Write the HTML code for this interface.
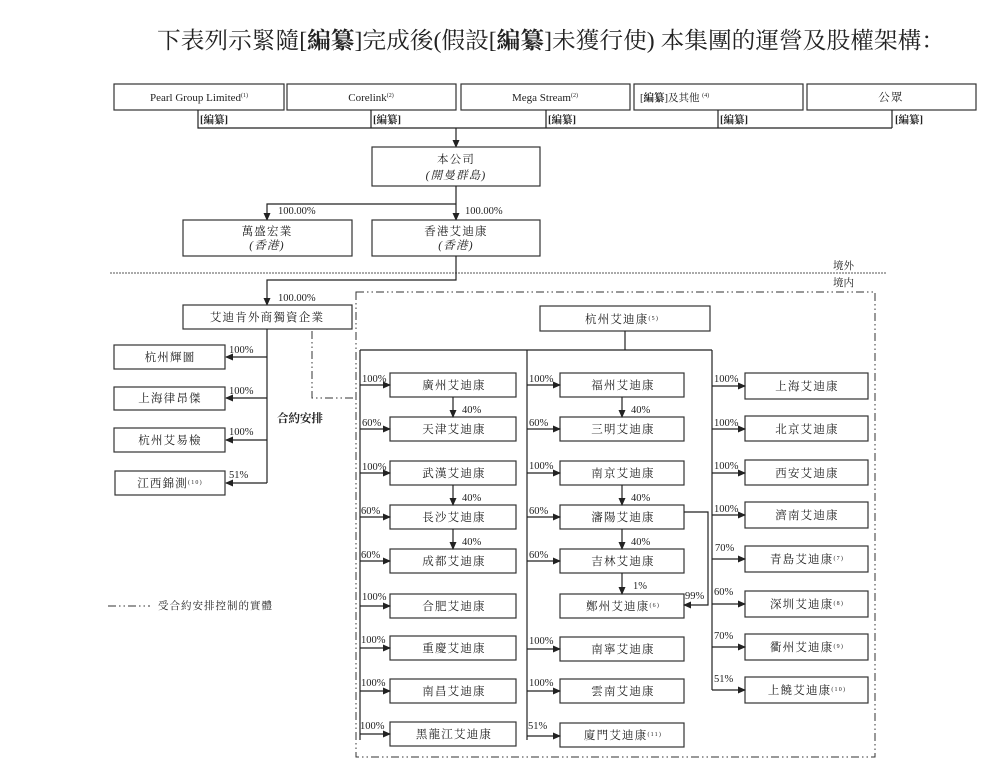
<!DOCTYPE html>
<html><head><meta charset="utf-8"><style>
html,body{margin:0;padding:0;background:#fff;}
svg{display:block;}
text{font-family:"Liberation Serif","Noto Serif CJK SC","Noto Sans CJK TC",serif;fill:#222;}
.b{fill:#fff;stroke:#333;stroke-width:1.2;}
.l{stroke:#222;stroke-width:1.2;fill:none;}
.t{font-size:11.5px;text-anchor:middle;letter-spacing:1.2px;}
.p{font-size:10.5px;}
.dd{stroke:#333;stroke-width:1;fill:none;stroke-dasharray:8,3,1.5,3,1.5,3;}
</style></head><body>
<svg width="1007" height="781" viewBox="0 0 1007 781" xmlns="http://www.w3.org/2000/svg">
<defs><marker id="a" markerWidth="8" markerHeight="8" refX="7" refY="4" orient="auto" markerUnits="userSpaceOnUse"><path d="M0,0.5 L8,4 L0,7.5z" fill="#222"/></marker></defs>
<text x="157" y="48" font-size="23" textLength="788" lengthAdjust="spacingAndGlyphs">下表列示緊隨[<tspan font-weight="bold">編纂</tspan>]完成後(假設[<tspan font-weight="bold">編纂</tspan>]未獲行使) 本集團的運營及股權架構：</text>

<rect class="b" x="114" y="84" width="170" height="26"/><text x="199" y="101" font-size="11" text-anchor="middle">Pearl Group Limited<tspan font-size="6" dy="-4">(1)</tspan></text>
<rect class="b" x="287" y="84" width="169" height="26"/><text x="371" y="101" font-size="11" text-anchor="middle">Corelink<tspan font-size="6" dy="-4">(2)</tspan></text>
<rect class="b" x="461" y="84" width="169" height="26"/><text x="545" y="101" font-size="11" text-anchor="middle">Mega Stream<tspan font-size="6" dy="-4">(2)</tspan></text>
<rect class="b" x="634" y="84" width="169" height="26"/><text class="p" x="640" y="101">[<tspan font-weight="bold">編纂</tspan>]及其他 <tspan font-size="6" dy="-4">(4)</tspan></text>
<rect class="b" x="807" y="84" width="169" height="26"/><text class="t" x="891" y="101">公眾</text>
<path class="l" d="M198,110V128H892 M371,110V128 M546,110V128 M718,110V128 M892,110V128"/>
<g class="p" font-weight="bold"><text x="200" y="123">[編纂]</text><text x="373" y="123">[編纂]</text><text x="548" y="123">[編纂]</text><text x="720" y="123">[編纂]</text><text x="895" y="123">[編纂]</text></g>
<path class="l" d="M456,128V147" marker-end="url(#a)"/>
<rect class="b" x="372" y="147" width="168" height="39"/><text class="t" x="456" y="163">本公司</text><text class="t" x="456" y="179" font-style="italic">(開曼群島)</text>
<path class="l" d="M456,186V220" marker-end="url(#a)"/>
<path class="l" d="M456,204H267V220" marker-end="url(#a)"/>
<text class="p" x="278" y="214">100.00%</text><text class="p" x="465" y="214">100.00%</text>
<rect class="b" x="183" y="220" width="169" height="36"/><text class="t" x="267" y="235">萬盛宏業</text><text class="t" x="267" y="249" font-style="italic">(香港)</text>
<rect class="b" x="372" y="220" width="168" height="36"/><text class="t" x="456" y="235">香港艾迪康</text><text class="t" x="456" y="249" font-style="italic">(香港)</text>
<path d="M110,273H887" stroke="#555" stroke-width="1" stroke-dasharray="2,1"/>
<text class="p" x="833" y="269">境外</text><text class="p" x="833" y="286">境内</text>
<path class="l" d="M456,256V280H267V305" marker-end="url(#a)"/>
<text class="p" x="278" y="301">100.00%</text>
<rect class="b" x="183" y="305" width="169" height="24"/><text class="t" x="267" y="321">艾迪肯外商獨資企業</text>
<path class="l" d="M267,329V483"/>
<g class="l"><path d="M267,357H226" marker-end="url(#a)"/><path d="M267,398H226" marker-end="url(#a)"/><path d="M267,440H226" marker-end="url(#a)"/><path d="M267,483H226" marker-end="url(#a)"/></g>
<rect class="b" x="114" y="345" width="111" height="24"/><text class="t" x="170" y="361">杭州輝圖</text>
<rect class="b" x="114" y="387" width="111" height="23"/><text class="t" x="170" y="402">上海律昂傑</text>
<rect class="b" x="114" y="428" width="111" height="24"/><text class="t" x="170" y="444">杭州艾易檢</text>
<rect class="b" x="115" y="471" width="110" height="24"/><text class="t" x="170" y="487">江西錦測<tspan font-size="6" dy="-3">(10)</tspan></text>
<g class="p"><text x="229" y="353">100%</text><text x="229" y="394">100%</text><text x="229" y="435">100%</text><text x="229" y="478">51%</text></g>
<text x="277" y="422" font-size="11.5" font-weight="bold">合約安排</text>
<path class="dd" d="M312,331V398H356"/>
<rect class="dd" x="356" y="292" width="519" height="465"/>
<path class="dd" d="M108,606H150"/><text x="158" y="609" font-size="10.5" letter-spacing="1">受合約安排控制的實體</text>

<rect class="b" x="540" y="306" width="170" height="25"/><text class="t" x="622" y="323">杭州艾迪康<tspan font-size="6" dy="-3">(5)</tspan></text>
<path class="l" d="M625,331V350 M360,350H712 M360,350V740 M527,350V740 M712,350V690"/>

<g class="b">
<rect x="390" y="373" width="126" height="24"/><rect x="390" y="417" width="126" height="24"/><rect x="390" y="461" width="126" height="24"/><rect x="390" y="505" width="126" height="24"/><rect x="390" y="549" width="126" height="24"/><rect x="390" y="594" width="126" height="24"/><rect x="390" y="636" width="126" height="24"/><rect x="390" y="679" width="126" height="24"/><rect x="390" y="722" width="126" height="24"/>
<rect x="560" y="373" width="124" height="24"/><rect x="560" y="417" width="124" height="24"/><rect x="560" y="461" width="124" height="24"/><rect x="560" y="505" width="124" height="24"/><rect x="560" y="549" width="124" height="24"/><rect x="560" y="594" width="124" height="24"/><rect x="560" y="637" width="124" height="24"/><rect x="560" y="679" width="124" height="24"/><rect x="560" y="723" width="124" height="24"/>
<rect x="745" y="373" width="123" height="26"/><rect x="745" y="416" width="123" height="25"/><rect x="745" y="460" width="123" height="25"/><rect x="745" y="502" width="123" height="26"/><rect x="745" y="546" width="123" height="26"/><rect x="745" y="591" width="123" height="26"/><rect x="745" y="634" width="123" height="26"/><rect x="745" y="677" width="123" height="26"/>
</g>
<g class="t">
<text x="454" y="389">廣州艾迪康</text><text x="454" y="433">天津艾迪康</text><text x="454" y="477">武漢艾迪康</text><text x="454" y="521">長沙艾迪康</text><text x="454" y="565">成都艾迪康</text><text x="454" y="610">合肥艾迪康</text><text x="454" y="652">重慶艾迪康</text><text x="454" y="695">南昌艾迪康</text><text x="454" y="738">黑龍江艾迪康</text>
<text x="623" y="389">福州艾迪康</text><text x="623" y="433">三明艾迪康</text><text x="623" y="477">南京艾迪康</text><text x="623" y="521">瀋陽艾迪康</text><text x="623" y="565">吉林艾迪康</text><text x="623" y="610">鄭州艾迪康<tspan font-size="6" dy="-3">(6)</tspan></text><text x="623" y="653">南寧艾迪康</text><text x="623" y="695">雲南艾迪康</text><text x="623" y="739">廈門艾迪康<tspan font-size="6" dy="-3">(11)</tspan></text>
<text x="807" y="390">上海艾迪康</text><text x="807" y="433">北京艾迪康</text><text x="807" y="477">西安艾迪康</text><text x="807" y="519">濟南艾迪康</text><text x="807" y="563">青島艾迪康<tspan font-size="6" dy="-3">(7)</tspan></text><text x="807" y="608">深圳艾迪康<tspan font-size="6" dy="-3">(8)</tspan></text><text x="807" y="651">衢州艾迪康<tspan font-size="6" dy="-3">(9)</tspan></text><text x="807" y="694">上饒艾迪康<tspan font-size="6" dy="-3">(10)</tspan></text>
</g>
<g class="l">
<path d="M360,385H390" marker-end="url(#a)"/><path d="M360,429H390" marker-end="url(#a)"/><path d="M360,473H390" marker-end="url(#a)"/><path d="M360,517H390" marker-end="url(#a)"/><path d="M360,561H390" marker-end="url(#a)"/><path d="M360,606H390" marker-end="url(#a)"/><path d="M360,648H390" marker-end="url(#a)"/><path d="M360,691H390" marker-end="url(#a)"/><path d="M360,734H390" marker-end="url(#a)"/>
<path d="M527,385H560" marker-end="url(#a)"/><path d="M527,429H560" marker-end="url(#a)"/><path d="M527,473H560" marker-end="url(#a)"/><path d="M527,517H560" marker-end="url(#a)"/><path d="M527,561H560" marker-end="url(#a)"/><path d="M527,649H560" marker-end="url(#a)"/><path d="M527,691H560" marker-end="url(#a)"/><path d="M527,736H560" marker-end="url(#a)"/>
<path d="M712,386H745" marker-end="url(#a)"/><path d="M712,429H745" marker-end="url(#a)"/><path d="M712,473H745" marker-end="url(#a)"/><path d="M712,515H745" marker-end="url(#a)"/><path d="M712,559H745" marker-end="url(#a)"/><path d="M712,604H745" marker-end="url(#a)"/><path d="M712,647H745" marker-end="url(#a)"/><path d="M712,690H745" marker-end="url(#a)"/>
<path d="M453,397V417" marker-end="url(#a)"/><path d="M453,485V505" marker-end="url(#a)"/><path d="M453,529V549" marker-end="url(#a)"/>
<path d="M622,397V417" marker-end="url(#a)"/><path d="M622,485V505" marker-end="url(#a)"/><path d="M622,529V549" marker-end="url(#a)"/><path d="M622,573V594" marker-end="url(#a)"/>
<path d="M684,512H708V605H684" marker-end="url(#a)"/>
</g>
<g class="p">
<text x="362" y="382">100%</text><text x="362" y="426">60%</text><text x="362" y="470">100%</text><text x="361" y="514">60%</text><text x="361" y="558">60%</text><text x="362" y="600">100%</text><text x="361" y="643">100%</text><text x="361" y="686">100%</text><text x="360" y="729">100%</text>
<text x="529" y="382">100%</text><text x="529" y="426">60%</text><text x="529" y="469">100%</text><text x="529" y="514">60%</text><text x="529" y="558">60%</text><text x="529" y="644">100%</text><text x="529" y="686">100%</text><text x="528" y="729">51%</text>
<text x="714" y="382">100%</text><text x="714" y="426">100%</text><text x="714" y="469">100%</text><text x="714" y="512">100%</text><text x="715" y="551">70%</text><text x="714" y="595">60%</text><text x="714" y="639">70%</text><text x="714" y="682">51%</text>
<text x="462" y="413">40%</text><text x="462" y="501">40%</text><text x="462" y="545">40%</text>
<text x="631" y="413">40%</text><text x="631" y="501">40%</text><text x="631" y="545">40%</text><text x="633" y="589">1%</text><text x="685" y="599">99%</text>
</g>
</svg>
</body></html>
